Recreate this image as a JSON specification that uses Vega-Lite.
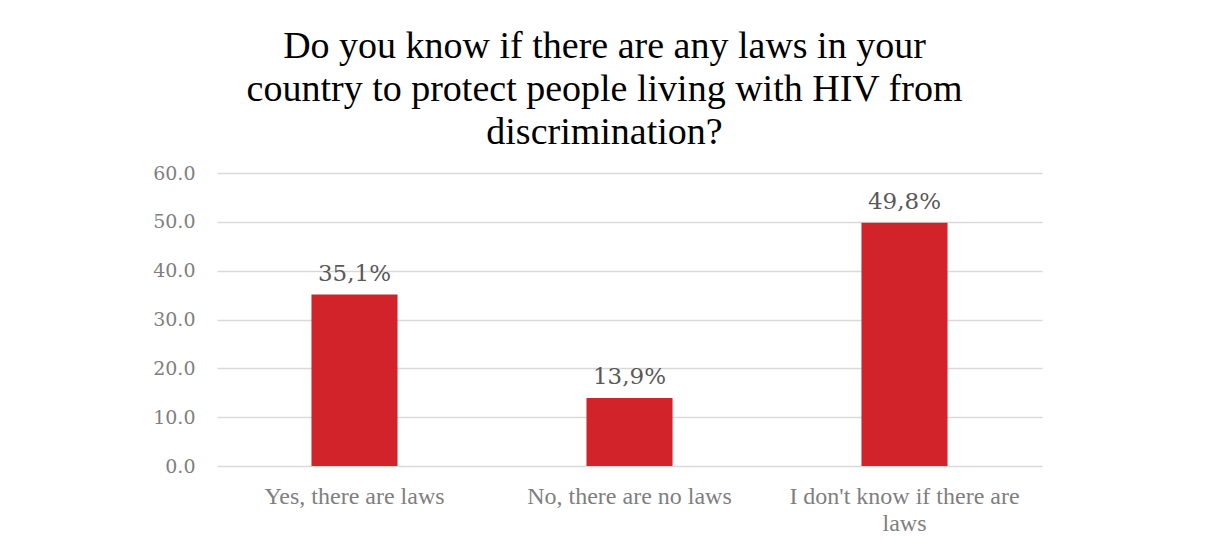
{
  "$schema": "https://vega.github.io/schema/vega-lite/v6.json",
  "autosize": "none",
  "padding": {"left": 217, "top": 173, "right": 163, "bottom": 75},
  "width": 825,
  "height": 293,
  "background": "white",
  "title": {
    "text": ["Do you know if there are any laws in your", "country to protect people living with HIV from", "discrimination?"],
    "font": "Liberation Serif",
    "fontSize": 38,
    "fontWeight": "normal",
    "color": "#000000",
    "lineHeight": 43,
    "anchor": "middle",
    "frame": "group",
    "dx": -25,
    "offset": 12
  },
  "data": {
    "values": [
      {"answer": "Yes, there are laws", "percent": 35.1, "label": "35,1%"},
      {"answer": "No, there are no laws", "percent": 13.9, "label": "13,9%"},
      {"answer": "I don't know if there are laws", "percent": 49.8, "label": "49,8%"}
    ]
  },
  "encoding": {
    "x": {
      "field": "answer",
      "type": "nominal",
      "sort": null,
      "scale": {"paddingInner": 0.687, "paddingOuter": 0.3435},
      "axis": {
        "title": null,
        "domain": false,
        "ticks": false,
        "labelAngle": 0,
        "labelFont": "Liberation Serif",
        "labelFontSize": 24,
        "labelColor": "#7F7F7F",
        "labelPadding": 18,
        "labelLineHeight": 27,
        "labelLimit": 400,
        "labelExpr": "datum.label == \"I don't know if there are laws\" ? [\"I don't know if there are\", \"laws\"] : datum.label"
      }
    },
    "y": {
      "field": "percent",
      "type": "quantitative",
      "scale": {"domain": [0, 60]},
      "axis": {
        "title": null,
        "values": [0, 10, 20, 30, 40, 50, 60],
        "format": ".1f",
        "domain": false,
        "ticks": false,
        "grid": true,
        "gridColor": "#D9D9D9",
        "gridWidth": 1.5,
        "labelFont": "DejaVu Serif",
        "labelFontSize": 19,
        "labelColor": "#7F7F7F",
        "labelPadding": 22
      }
    }
  },
  "layer": [
    {"mark": {"type": "bar", "color": "#D2232A"}},
    {
      "mark": {"type": "text", "baseline": "bottom", "dy": -9, "font": "DejaVu Serif", "fontSize": 23, "color": "#595959"},
      "encoding": {"text": {"field": "label"}}
    }
  ],
  "config": {"view": {"stroke": null}}
}
